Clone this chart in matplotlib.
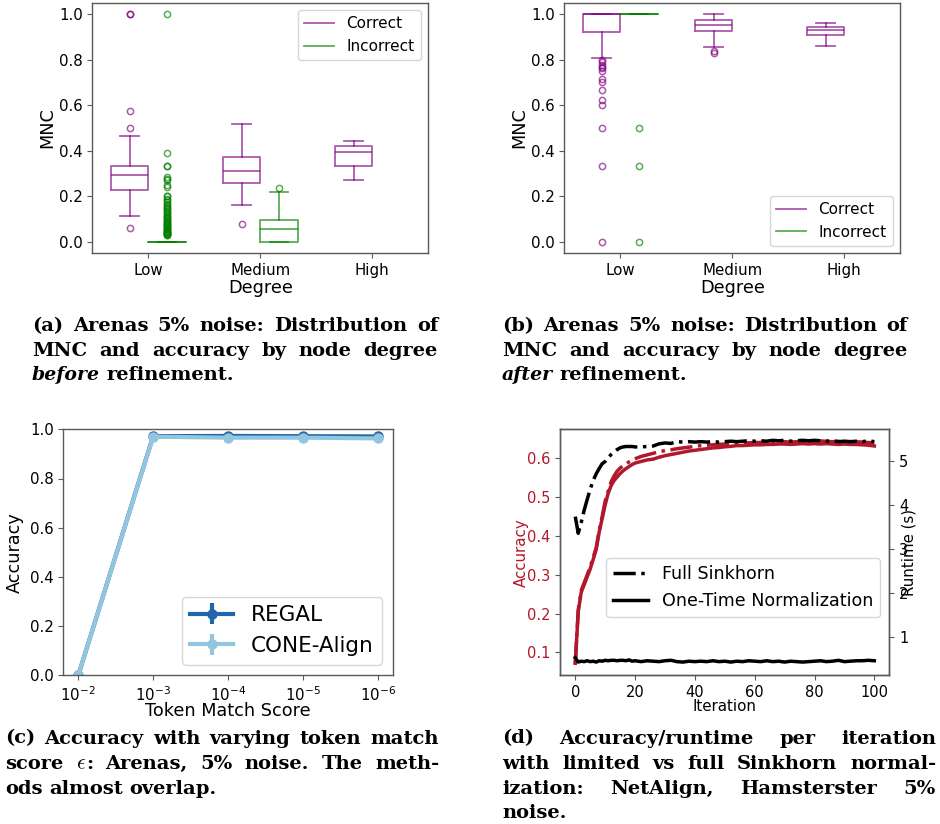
import re
import matplotlib
matplotlib.use('Agg')
import matplotlib.pyplot as plt
from matplotlib.lines import Line2D
from matplotlib.transforms import IdentityTransform

# ---------------- data ----------------
degrees = ['Low', 'Medium', 'High']

# (a) before refinement -- Correct (Low, Medium, High)
bef_cor_q1 = [0.229, 0.258, 0.332]
bef_cor_med = [0.293, 0.310, 0.394]
bef_cor_q3 = [0.334, 0.372, 0.420]
bef_cor_lo = [0.112, 0.162, 0.270]
bef_cor_hi = [0.466, 0.516, 0.442]
bef_cor_fliers = [[1.0, 1.0, 0.573, 0.5, 0.063], [0.077], []]
# (a) before refinement -- Incorrect (Low, Medium)
bef_inc_q1 = [0.0, 0.0]
bef_inc_med = [0.0, 0.057]
bef_inc_q3 = [0.0, 0.095]
bef_inc_lo = [0.0, 0.0]
bef_inc_hi = [0.0, 0.219]
bef_inc_fliers = [
    [1.0, 0.389, 0.333, 0.333, 0.286, 0.278, 0.273, 0.25, 0.24, 0.2, 0.2, 0.19,
     0.182, 0.176, 0.167, 0.16, 0.154, 0.15, 0.143, 0.136, 0.13, 0.125, 0.12,
     0.115, 0.111, 0.105, 0.1, 0.095, 0.091, 0.087, 0.083, 0.08, 0.077, 0.074,
     0.071, 0.067, 0.063, 0.059, 0.056, 0.053, 0.05, 0.048, 0.045, 0.043, 0.04,
     0.038, 0.036, 0.034, 0.032, 0.03],
    [0.236]]

# (b) after refinement -- Correct
aft_cor_q1 = [0.923, 0.926, 0.907]
aft_cor_med = [1.0, 0.950, 0.930]
aft_cor_q3 = [1.0, 0.974, 0.943]
aft_cor_lo = [0.809, 0.857, 0.862]
aft_cor_hi = [1.0, 1.0, 0.962]
aft_cor_fliers = [[0.8, 0.789, 0.778, 0.769, 0.762, 0.75, 0.714, 0.7, 0.667,
                   0.625, 0.6, 0.5, 0.333, 0.0], [0.838, 0.831], []]
# (b) after refinement -- Incorrect (Low only)
aft_inc_q1 = [1.0]
aft_inc_med = [1.0]
aft_inc_q3 = [1.0]
aft_inc_lo = [1.0]
aft_inc_hi = [1.0]
aft_inc_fliers = [[0.5, 0.333, 0.0]]

# (c) token match score
eps_labels = ['$10^{-2}$', '$10^{-3}$', '$10^{-4}$', '$10^{-5}$', '$10^{-6}$']
regal_acc = [0.0, 0.972, 0.973, 0.972, 0.971]
regal_err = [0.0, 0.002, 0.002, 0.002, 0.002]
cone_acc = [0.0, 0.970, 0.966, 0.966, 0.963]
cone_err = [0.0, 0.002, 0.002, 0.002, 0.002]

# (d) accuracy / runtime per iteration
iters = [0, 1, 2, 3, 4, 5, 6, 7, 8, 9, 10, 11, 12, 13, 14, 15, 16, 17, 18, 19, 20,
         22, 24, 26, 28, 30, 32, 34, 36, 38, 40, 42, 44, 46, 48, 50, 52, 54, 56, 58,
         60, 62, 64, 66, 68, 70, 72, 74, 76, 78, 80, 82, 84, 86, 88, 90, 92, 94, 96,
         98, 100]
acc_one = [0.072, 0.205, 0.255, 0.275, 0.295, 0.315, 0.340, 0.365, 0.410, 0.445,
           0.480, 0.510, 0.530, 0.543, 0.552, 0.561, 0.568, 0.574, 0.579, 0.584,
           0.588, 0.592, 0.596, 0.598, 0.603, 0.607, 0.610, 0.613, 0.616, 0.619,
           0.621, 0.623, 0.625, 0.627, 0.628, 0.630, 0.631, 0.633, 0.633, 0.634,
           0.635, 0.635, 0.636, 0.636, 0.637, 0.637, 0.636, 0.637, 0.638, 0.637,
           0.638, 0.637, 0.638, 0.637, 0.636, 0.637, 0.636, 0.636, 0.635, 0.634,
           0.632]
acc_full = [0.070, 0.210, 0.260, 0.280, 0.300, 0.320, 0.345, 0.370, 0.415, 0.450,
            0.490, 0.515, 0.540, 0.555, 0.567, 0.575, 0.581, 0.586, 0.591, 0.595,
            0.599, 0.605, 0.609, 0.613, 0.617, 0.620, 0.622, 0.625, 0.627, 0.629,
            0.631, 0.633, 0.634, 0.635, 0.636, 0.637, 0.638, 0.639, 0.640, 0.640,
            0.641, 0.641, 0.642, 0.641, 0.642, 0.643, 0.642, 0.643, 0.644, 0.645,
            0.644, 0.645, 0.644, 0.643, 0.644, 0.643, 0.642, 0.643, 0.642, 0.641,
            0.640]
rt_full = [3.73, 3.35, 3.60, 3.88, 4.12, 4.35, 4.55, 4.70, 4.82, 4.93, 4.98, 5.06,
           5.14, 5.20, 5.25, 5.29, 5.31, 5.32, 5.32, 5.32, 5.31, 5.31, 5.32, 5.33,
           5.38, 5.40, 5.39, 5.43, 5.42, 5.43, 5.42, 5.43, 5.42, 5.43, 5.42, 5.43,
           5.44, 5.43, 5.44, 5.45, 5.44, 5.45, 5.44, 5.46, 5.45, 5.46, 5.44, 5.45,
           5.46, 5.45, 5.46, 5.45, 5.44, 5.45, 5.43, 5.44, 5.43, 5.44, 5.43, 5.45,
           5.43]
rt_one = [0.53, 0.43, 0.45, 0.44, 0.46, 0.44, 0.45, 0.43, 0.46, 0.45, 0.47, 0.46,
          0.47, 0.47, 0.46, 0.47, 0.47, 0.46, 0.48, 0.45, 0.46, 0.44, 0.46, 0.45,
          0.44, 0.46, 0.47, 0.44, 0.43, 0.45, 0.44, 0.45, 0.44, 0.46, 0.44, 0.45,
          0.43, 0.45, 0.44, 0.46, 0.45, 0.44, 0.46, 0.44, 0.45, 0.43, 0.45, 0.44,
          0.43, 0.44, 0.45, 0.46, 0.44, 0.45, 0.47, 0.44, 0.45, 0.46, 0.46, 0.47,
          0.46]

# captions
cap_a = ["(a) Arenas 5% noise: Distribution of",
         "MNC and accuracy by node degree",
         "*before* refinement."]
cap_b = ["(b) Arenas 5% noise: Distribution of",
         "MNC and accuracy by node degree",
         "*after* refinement."]
cap_c = ["(c) Accuracy with varying token match",
         r"score $\epsilon$: Arenas, 5% noise. The meth-",
         "ods almost overlap."]
cap_d = ["(d) Accuracy/runtime per iteration",
         "with limited vs full Sinkhorn normal-",
         "ization: NetAlign, Hamsterster 5%",
         "noise."]

# ---------------- style ----------------
plt.rcParams.update({
    'font.family': 'DejaVu Sans',
    'axes.edgecolor': '0.35',
    'axes.linewidth': 1.0,
    'xtick.color': '0.35', 'ytick.color': '0.35',
    'xtick.labelcolor': 'black', 'ytick.labelcolor': 'black',
    'legend.edgecolor': '0.8',
})

W, H = 940, 824
fig = plt.figure(figsize=(W / 100, H / 100), dpi=100)


def px_axes(l, t, r, b):
    return fig.add_axes([l / W, 1 - b / H, (r - l) / W, (b - t) / H])


PURPLE, GREEN, ALPHA = 'purple', 'green', 0.65
TICK_FS, LAB_FS = 10.8, 12.7


def draw_boxes(ax, pos, q1, med, q3, lo, hi, fliers, color):
    stats = [dict(q1=a, med=m, q3=b, whislo=c, whishi=d, fliers=f)
             for a, m, b, c, d, f in zip(q1, med, q3, lo, hi, fliers)]
    lp = dict(color=color, alpha=ALPHA, lw=1.3)
    ax.bxp(stats, positions=pos, widths=1 / 3, manage_ticks=False,
           boxprops=lp, whiskerprops=lp, capprops=lp, medianprops=lp,
           flierprops=dict(marker='o', markerfacecolor='none',
                           markeredgecolor=color, alpha=ALPHA,
                           markersize=4.5, markeredgewidth=1.1))


def box_panel(ax, cor, inc, legend_loc):
    n_inc = len(inc[0])
    draw_boxes(ax, [i + 1 - 1 / 6 for i in range(3)], *cor, PURPLE)
    draw_boxes(ax, [i + 1 + 1 / 6 for i in range(n_inc)], *inc, GREEN)
    ax.set_xlim(0.5, 3.5)
    ax.set_ylim(-0.05, 1.05)
    ax.set_xticks([1, 2, 3], degrees)
    ax.tick_params(labelsize=TICK_FS)
    ax.set_ylabel('MNC', fontsize=LAB_FS, labelpad=2)
    ax.set_xlabel('Degree', fontsize=LAB_FS, labelpad=1)
    handles = [Line2D([], [], color=PURPLE, alpha=ALPHA, lw=1.3),
               Line2D([], [], color=GREEN, alpha=ALPHA, lw=1.3)]
    ax.legend(handles, ['Correct', 'Incorrect'], loc=legend_loc, fontsize=11)


ax_a = px_axes(92.3, 2.7, 428.3, 253.3)
box_panel(ax_a,
          (bef_cor_q1, bef_cor_med, bef_cor_q3, bef_cor_lo, bef_cor_hi, bef_cor_fliers),
          (bef_inc_q1, bef_inc_med, bef_inc_q3, bef_inc_lo, bef_inc_hi, bef_inc_fliers),
          'upper right')

ax_b = px_axes(564.3, 2.7, 900.3, 253.3)
box_panel(ax_b,
          (aft_cor_q1, aft_cor_med, aft_cor_q3, aft_cor_lo, aft_cor_hi, aft_cor_fliers),
          (aft_inc_q1, aft_inc_med, aft_inc_q3, aft_inc_lo, aft_inc_hi, aft_inc_fliers),
          'lower right')

# (c)
ax_c = px_axes(63.3, 429.3, 392.7, 675.3)
xs = list(range(len(eps_labels)))
ax_c.errorbar(xs, regal_acc, yerr=regal_err, color='#2166ac', marker='o',
              lw=3, ms=6.5, label='REGAL')
ax_c.errorbar(xs, cone_acc, yerr=cone_err, color='#92c5de', marker='o',
              lw=3, ms=6.5, label='CONE-Align')
ax_c.set_xlim(-0.2, 4.2)
ax_c.set_ylim(0, 1)
ax_c.set_xticks(xs, eps_labels)
ax_c.tick_params(labelsize=TICK_FS)
ax_c.set_ylabel('Accuracy', fontsize=LAB_FS)
ax_c.set_xlabel('Token Match Score', fontsize=LAB_FS, labelpad=-1)
ax_c.legend(loc='lower right', fontsize=15.5)

# (d)
RED = '#b2182b'
ax_d = px_axes(560.3, 429.3, 889.3, 675.3)
ax_d.plot(iters, acc_full, color=RED, ls='-.', lw=2.5)
ax_d.plot(iters, acc_one, color=RED, ls='-', lw=2.5)
ax_d.set_ylim(0.041, 0.675)
ax_d.set_xlim(-5, 105)
ax_d.set_xticks([0, 20, 40, 60, 80, 100])
ax_d.tick_params(labelsize=10.5)
ax_d.tick_params(axis='y', labelcolor=RED)
ax_d.set_ylabel('Accuracy', color=RED, fontsize=10.8, labelpad=-1)
ax_d.set_xlabel('Iteration', fontsize=10.8, labelpad=-1)
ax_d2 = ax_d.twinx()
ax_d2.plot(iters, rt_full, color='black', ls='-.', lw=2.5, label='Full Sinkhorn')
ax_d2.plot(iters, rt_one, color='black', ls='-', lw=2.5, label='One-Time Normalization')
ax_d2.set_ylim(0.13, 5.71)
ax_d2.tick_params(labelsize=10.5)
ax_d2.set_ylabel('Runtime (s)', fontsize=10.8, labelpad=-5)
ax_d2.legend(loc='lower right', bbox_to_anchor=(0.973, 0.236), borderaxespad=0,
             fontsize=12.6)

# ---------------- captions ----------------
renderer = fig.canvas.get_renderer()
CAP_FS = 14.0


def seg_kw(style, size):
    if style == 'i':
        return dict(family='DejaVu Serif', style='italic', weight='bold',
                    fontsize=size * 0.97)
    if style == 'm':
        return dict(family='DejaVu Serif', weight='bold', fontsize=size * 1.1,
                    math_fontfamily='cm')
    return dict(family='DejaVu Serif', weight='bold', fontsize=size)


def caption(lines, x0, x1, baselines, size=CAP_FS):
    for k, (line, yb) in enumerate(zip(lines, baselines)):
        justify = k < len(lines) - 1
        items = []
        for word in line.split(' '):
            segs = []
            if word.startswith('*') and word.endswith('*'):
                parts = [(word.strip('*'), 'i')]
            else:
                parts = [(p, 'm' if p.startswith('$') else 'b')
                         for p in re.split(r'(\$[^$]*\$)', word) if p]
            for s, st in parts:
                t = fig.text(0, H - yb, s, transform=IdentityTransform(),
                             ha='left', va='baseline', **seg_kw(st, size))
                segs.append((t, t.get_window_extent(renderer).width))
            items.append(segs)
        widths = [sum(w for _, w in s) for s in items]
        if justify and len(items) > 1:
            gap = (x1 - x0 - sum(widths)) / (len(items) - 1)
        else:
            gap = size * 100 / 72 * 0.33
        x = x0
        for segs in items:
            for t, w in segs:
                t.set_x(x)
                x += w
            x += gap


caption(cap_a, 32, 438, [331, 355.5, 380])
caption(cap_b, 502, 908, [331, 355.5, 380])
caption(cap_c, 5, 439, [743.5, 769, 793.5])
caption(cap_d, 502, 936, [743.5, 769, 793.5, 818])

fig.savefig('out.png', dpi=100)
